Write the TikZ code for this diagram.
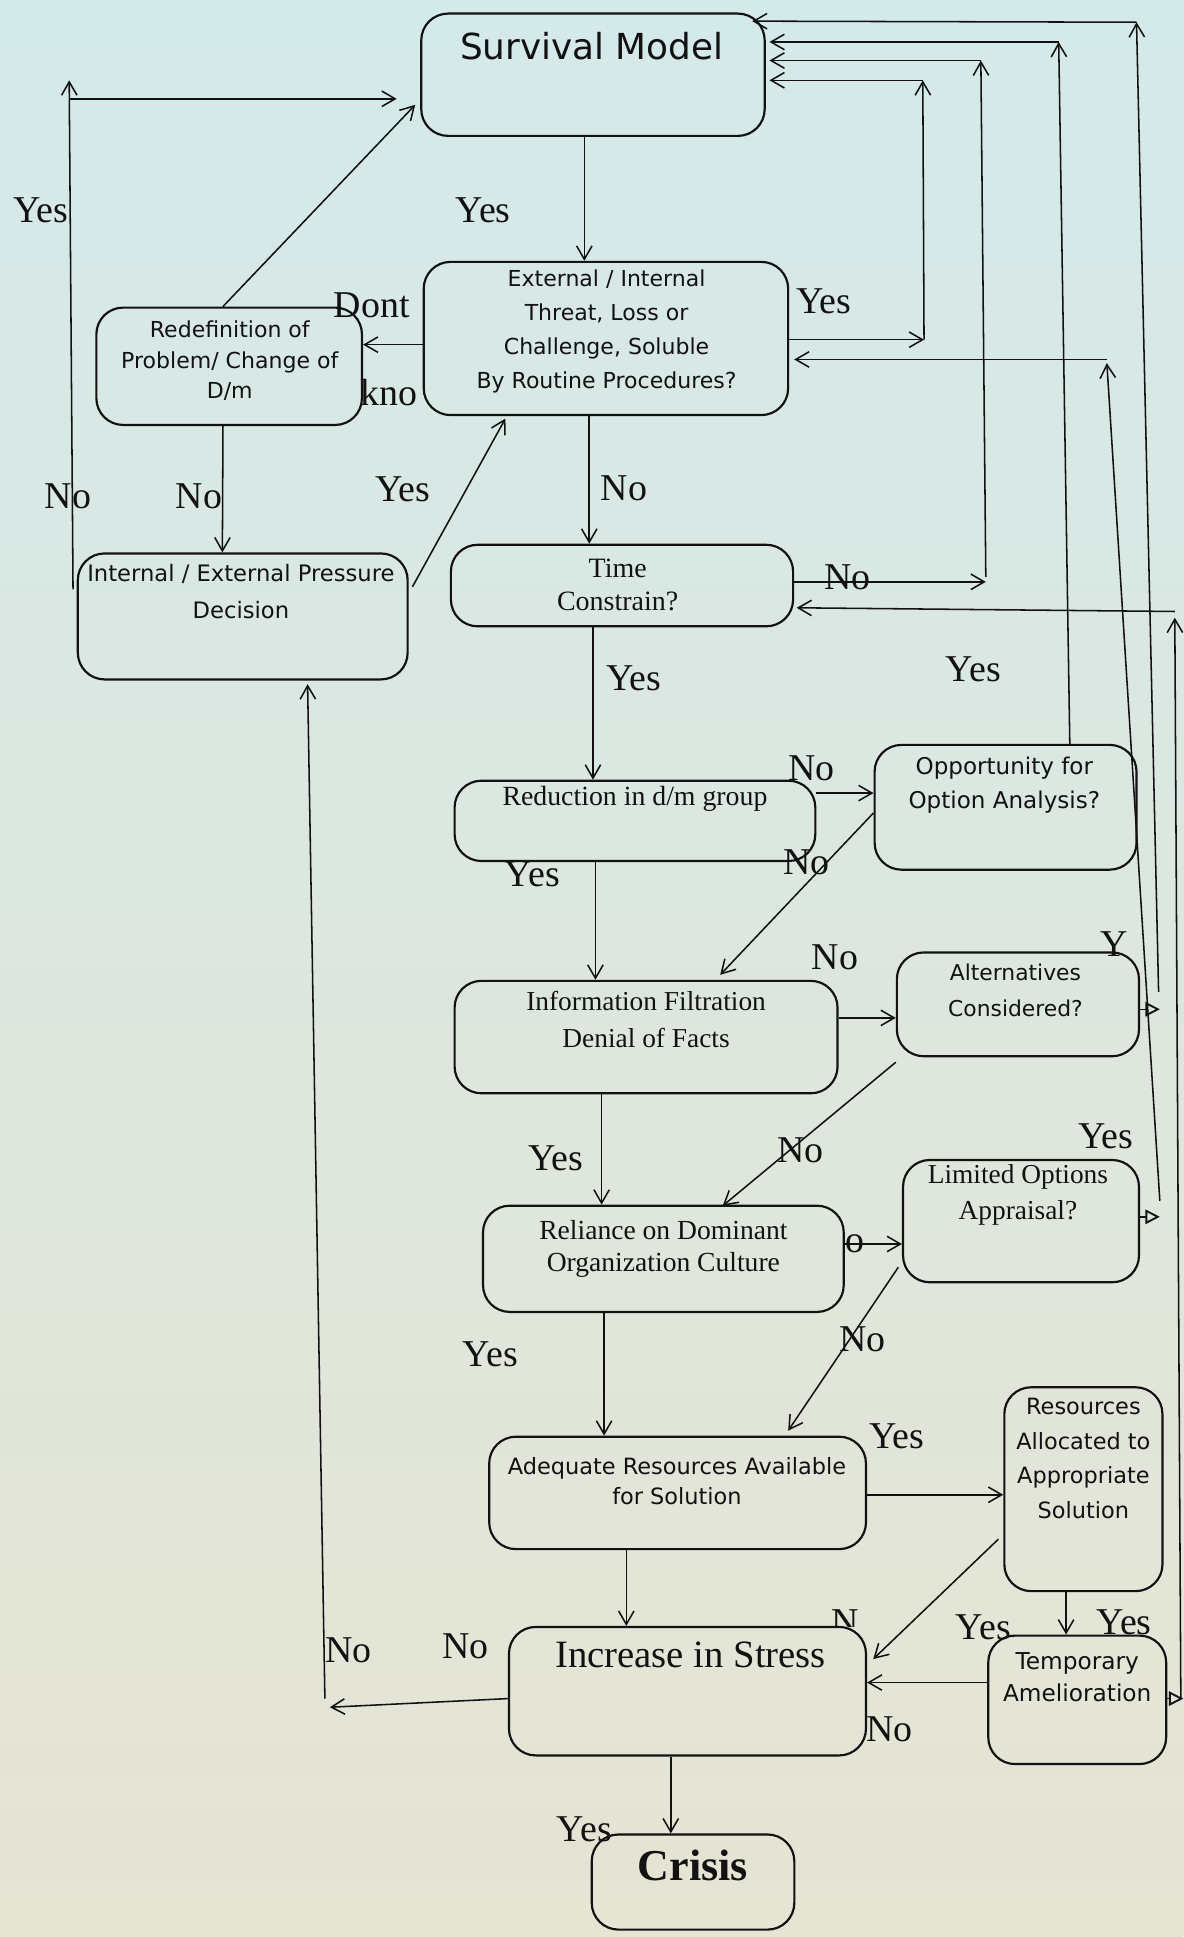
\documentclass[tikz,border=0pt]{standalone}
\usepackage{fontspec}
\setmainfont{Liberation Serif}
\newfontfamily\dvs{DejaVu Sans}
\usetikzlibrary{arrows.meta,calc}

\definecolor{bgtop}{RGB}{212,233,234}
\definecolor{bgmid}{RGB}{221,236,229}
\definecolor{bgbot}{RGB}{230,228,211}
\definecolor{ink}{RGB}{18,18,18}

\begin{document}
\begin{tikzpicture}[x=0.6pt,y=-0.6pt,
  bx/.style 2 args={draw=ink, line width=1.05pt, rounded corners=13pt, inner sep=0pt,
    minimum width=#1*0.6pt, minimum height=#2*0.6pt},
  conn/.style={draw=ink, line width=0.75pt},
  arr/.style={conn, -{Straight Barb[length=6.5pt,width=7.5pt,line width=0.75pt]}},
  tip/.style={conn, -{Triangle[open,length=7pt,width=7pt,line width=0.9pt]}},
  txt/.style={text=ink, inner sep=0pt, align=center},
  lab/.style={text=ink, inner sep=0pt, font=\fontsize{18.4pt}{18.4pt}\selectfont}
]
% page and background
\useasboundingbox (0,0) rectangle (958,1568);
\shade[top color=bgtop, middle color=bgmid, bottom color=bgbot] (0,0) rectangle (958,1568);

% ---------- boxes ----------
\node[bx={278}{99}]  (A) at (480,60.5)   {};
\node[bx={295}{124}] (B) at (490.5,274)  {};
\node[bx={215}{95}]  (C) at (185.5,296.5){};
\node[bx={267}{102}] (D) at (196.5,499)  {};
\node[bx={277}{66}]  (E) at (503.5,474)  {};
\node[bx={292}{65}]  (F) at (514,664.5)  {};
\node[bx={212}{101}] (G) at (814,653.5)  {};
\node[bx={310}{91}]  (H) at (523,839.5)  {};
\node[bx={196}{84}]  (I) at (824,813)    {};
\node[bx={292}{86}]  (J) at (537,1019)   {};
\node[bx={191}{99}]  (K) at (826.5,988.5){};
\node[bx={305}{91}]  (L) at (548.5,1208.5){};
\node[bx={128}{165}] (M) at (877,1205.5) {};
\node[bx={289}{104}] (N) at (556.5,1369) {};
\node[bx={144}{104}] (O) at (872,1376)   {};
\node[bx={164}{77}]  (P) at (561,1523.5) {};

% ---------- box texts ----------
\node[txt, font=\dvs\fontsize{17.4pt}{20pt}\selectfont] (tA) at (479,37) {Survival Model};
\node[txt, font=\dvs\fontsize{10.7pt}{16.5pt}\selectfont] (tB) at (491,268.5)
  {External / Internal\\Threat, Loss or\\Challenge, Soluble\\By Routine Procedures?};
\node[txt, font=\dvs\fontsize{10.7pt}{15pt}\selectfont] (tC) at (186,292)
  {Redefinition of\\Problem/ Change of\\D/m};
\node[txt, font=\dvs\fontsize{11pt}{18pt}\selectfont] (tD) at (195,479)
  {Internal / External Pressure\\Decision};
\node[txt, font=\fontsize{13.6pt}{16.2pt}\selectfont] (tE) at (500,473.5) {Time\\Constrain?};
\node[txt, font=\fontsize{13.5pt}{16pt}\selectfont] (tF) at (514,647) {Reduction in d/m group};
\node[txt, font=\dvs\fontsize{11.2pt}{16.2pt}\selectfont] (tG) at (813,635.5)
  {Opportunity for\\Option Analysis?};
\node[txt, font=\fontsize{13.3pt}{18pt}\selectfont] (tH) at (523,825)
  {Information Filtration\\Denial of Facts};
\node[txt, font=\dvs\fontsize{10.6pt}{17.4pt}\selectfont] (tI) at (822,801.5)
  {Alternatives\\Considered?};
\node[txt, font=\fontsize{13.4pt}{15.6pt}\selectfont] (tJ) at (537,1011)
  {Reliance on Dominant\\Organization Culture};
\node[txt, font=\fontsize{13.3pt}{17.4pt}\selectfont] (tK) at (824,967.5)
  {Limited Options\\Appraisal?};
\node[txt, font=\dvs\fontsize{10.9pt}{14.4pt}\selectfont] (tL) at (548,1199)
  {Adequate Resources Available\\for Solution};
\node[txt, font=\dvs\fontsize{10.9pt}{16.8pt}\selectfont] (tM) at (877,1180.5)
  {Resources\\Allocated to\\Appropriate\\Solution};
\node[txt, font=\fontsize{18.8pt}{20pt}\selectfont] (tN) at (559,1340) {Increase in Stress};
\node[txt, font=\dvs\fontsize{11.3pt}{15.6pt}\selectfont] (tO) at (872,1358)
  {Temporary\\Amelioration};
\node[txt, font=\bfseries\fontsize{21.4pt}{24pt}\selectfont] (tP) at (561,1510) {Crisis};

% ---------- main column ----------
\draw[arr] ($(A.south)+(-7,0)$) -- ($(B.north)+(-17.5,0)$);
\draw[arr] ($(B.south)+(-13.5,0)$) -- ($(E.north)+(-26.5,0)$);
\draw[arr] ($(E.south)+(-23.5,0)$) -- ($(F.north)+(-34,0)$);
\draw[arr] ($(F.south)+(-32,0)$) -- ($(H.north)+(-41,0)$);
\draw[arr] ($(H.south)+(-36,0)$) -- ($(J.north)+(-50,0)$);
\draw[arr] ($(J.south)+(-48,0)$) -- ($(L.north)+(-59.5,0)$);
\draw[arr] ($(L.south)+(-41.5,0)$) -- ($(N.north)+(-49.5,0)$);
\draw[arr] ($(N.south)+(-13.5,0)$) -- ($(P.north)+(-18,0)$);

% ---------- left loop ----------
\draw[arr] ($(B.west)+(0,5)$) -- ($(C.east)+(0,-17.5)$);
\draw[arr] ($(C.north)+(-5,0)$) -- ($(A.south west)+(-4,-26)$);
\draw[arr] ($(C.south)+(-5,0)$) -- ($(D.north)+(-16.5,0)$);
\draw[arr] ($(D.east)+(3,-24)$) -- ($(B.south west)+(67,2)$);
\coordinate (cTL) at (56,72);
\draw[arr] ($(D.west)+(-3,-22)$) -- ($(cTL)+(0,-7)$);
\draw[arr] ($(cTL)+(0,8)$) -- ($(A.west)+(-19,19.5)$);
\coordinate (cBL) at (263,1378);
\draw[arr] ($(N.west)+(0,6)$) -- ($(cBL)+(4,4)$);
\draw[arr] ($(cBL)+(0,-3)$) -- ($(D.south)+(52.5,3)$);

% ---------- right side: decisions ----------
\draw[arr] ($(F.east)+(0,-22.5)$) -- ($(G.west)+(0,-11.5)$);
\draw[arr] ($(G.west)+(0,4.5)$) -- ($(H.north)+(60,-4)$);
\draw[arr] ($(H.east)+(0,-15.5)$) -- ($(I.west)+(0,11)$);
\draw[arr] ($(I.south west)+(0,4)$) -- ($(J.north)+(48,1)$);
\draw[arr] ($(J.east)+(0,-12)$) -- ($(K.west)+(0,18.5)$);
\draw[arr] ($(K.south west)+(-3,-13)$) -- ($(L.north)+(89.5,-4)$);
\draw[arr] ($(L.east)+(0,1.5)$) -- ($(M.west)+(0,4.5)$);
\draw[arr] ($(M.west)+(-4,40.5)$) -- ($(N.east)+(5,-26)$);
\draw[arr] ($(M.south)+(-14,0)$) -- ($(O.north)+(-9,0)$);
\draw[arr] ($(O.west)+(0,-14)$) -- ($(N.east)+(0,-7)$);

% ---------- feedback lines to the top ----------
\coordinate (r1b) at (748,275);
\coordinate (r1t) at (747,65);
\draw[arr] ($(B.east)+(0,1)$) -- (r1b);
\draw[arr] (r1b) -- (r1t);
\draw[arr] (r1t) -- ($(A.east)+(3,4.5)$);

\coordinate (r2b) at (798,471);
\coordinate (r2t) at (794,49);
\draw[arr] ($(E.east)+(0,-3)$) -- (r2b);
\draw[arr] ($(r2b)+(0,-4)$) -- (r2t);
\draw[arr] (r2t) -- ($(A.east)+(3,-11.5)$);

\coordinate (r3t) at (857,34);
\draw[arr] ($(G.north)+(52,0)$) -- (r3t);
\draw[arr] (r3t) -- ($(A.east)+(3,-26.5)$);

\coordinate (r4t) at (920,18);
\draw[tip] ($(I.east)+(0,4)$) -- ($(I.east)+(16,4)$);
\draw[arr] ($(I.east)+(15,-10)$) -- (r4t);
\draw[arr] (r4t) -- ($(A.north east)+(-11,7)$);

\coordinate (r5t) at (896,291);
\draw[tip] ($(K.east)+(0,-3.5)$) -- ($(K.east)+(16,-3.5)$);
\draw[arr] ($(K.east)+(16,-16.5)$) -- ($(r5t)+(0,3)$);
\draw[arr] (r5t) -- ($(B.east)+(4,17)$);

\coordinate (r6t) at (951,495);
\draw[tip] ($(O.east)+(0,-1)$) -- ($(O.east)+(13,-1)$);
\draw[arr] ($(O.east)+(11,-1)$) -- ($(r6t)+(0,5)$);
\draw[arr] (r6t) -- ($(E.east)+(2,18)$);

% ---------- branch labels ----------
\node[lab] (l01) at (33,170)   {Yes};
\node[lab] (l02) at (391,170)  {Yes};
\node[lab] (l03) at (301,247)  {Dont};
\node[lab] (l04) at (315,318)  {kno};
\node[lab] (l05) at (667,244)  {Yes};
\node[lab] (l06) at (55,402)   {No};
\node[lab] (l07) at (161,402)  {No};
\node[lab] (l08) at (326,396)  {Yes};
\node[lab] (l09) at (505,395)  {No};
\node[lab] (l10) at (686,467)  {No};
\node[lab] (l11) at (513,549)  {Yes};
\node[lab] (l12) at (788,542)  {Yes};
\node[lab] (l13) at (657,622)  {No};
\node[lab] (l14) at (431,708)  {Yes};
\node[lab] (l15) at (653,698)  {No};
\node[lab] (l16) at (676,775)  {No};
\node[lab] (l17) at (902,764)  {Y};
\node[lab] (l18) at (450,938)  {Yes};
\node[lab] (l19) at (648,931)  {No};
\node[lab] (l20) at (895,920)  {Yes};
\node[lab] (l21) at (692,1007) {o};
\node[lab] (l22) at (397,1096) {Yes};
\node[lab] (l23) at (698,1084) {No};
\node[lab] (l24) at (726,1163) {Yes};
\node[lab] (l25) at (796,1317) {Yes};
\node[lab] (l26) at (910,1313) {Yes};
\node[lab] (l27) at (720,1400) {No};
\node[lab] (l28) at (282,1336) {No};
\node[lab] (l29) at (377,1333) {No};
\node[lab] (l30) at (473,1481) {Yes};
\begin{scope}
  \clip (660,1280) rectangle (710,1317);
  \node[lab] (l31) at (684,1313) {N};
\end{scope}
\end{tikzpicture}
\end{document}
